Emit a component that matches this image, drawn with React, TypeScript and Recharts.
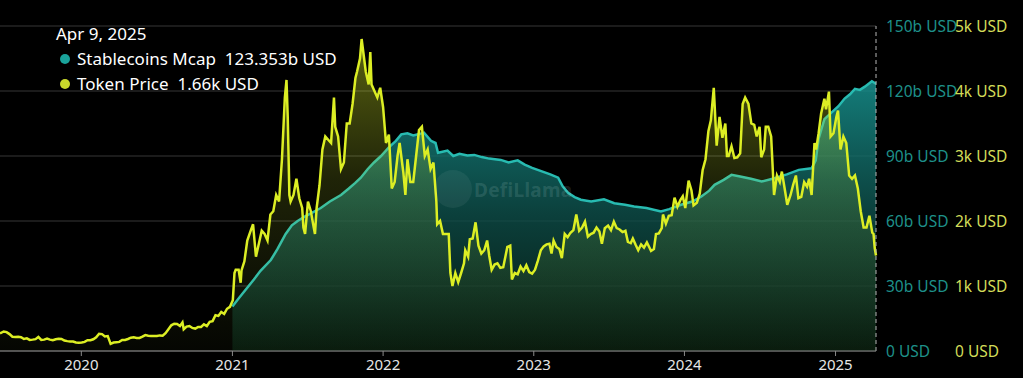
import React from 'react';
import { ComposedChart, Area, XAxis, YAxis, CartesianGrid, ReferenceLine } from 'recharts';

// Token price (USD)
const tokenPrice: [string, number][] = [
  ['2019-06-18', 270], ['2019-06-27', 300], ['2019-07-04', 290], ['2019-07-11', 260], ['2019-07-18', 220],
  ['2019-07-25', 215], ['2019-08-01', 220], ['2019-08-08', 212], ['2019-08-15', 185], ['2019-08-22', 195],
  ['2019-08-29', 170], ['2019-09-05', 175], ['2019-09-12', 182], ['2019-09-19', 215], ['2019-09-26', 170],
  ['2019-10-03', 175], ['2019-10-10', 190], ['2019-10-17', 175], ['2019-10-24', 165], ['2019-10-31', 180],
  ['2019-11-07', 188], ['2019-11-14', 185], ['2019-11-21', 160], ['2019-11-28', 152], ['2019-12-05', 148],
  ['2019-12-12', 145], ['2019-12-19', 130], ['2019-12-26', 127], ['2020-01-02', 130], ['2020-01-09', 140],
  ['2020-01-16', 165], ['2020-01-23', 165], ['2020-01-30', 180], ['2020-02-06', 210], ['2020-02-13', 265],
  ['2020-02-20', 260], ['2020-02-27', 225], ['2020-03-05', 230], ['2020-03-12', 110], ['2020-03-19', 130],
  ['2020-03-26', 135], ['2020-04-02', 140], ['2020-04-09', 170], ['2020-04-16', 170], ['2020-04-23', 185],
  ['2020-04-30', 205], ['2020-05-07', 210], ['2020-05-14', 200], ['2020-05-21', 200], ['2020-05-28', 220],
  ['2020-06-04', 245], ['2020-06-11', 235], ['2020-06-18', 230], ['2020-06-25', 230], ['2020-07-02', 230],
  ['2020-07-09', 240], ['2020-07-16', 235], ['2020-07-23', 275], ['2020-07-30', 335], ['2020-08-06', 395],
  ['2020-08-13', 420], ['2020-08-20', 415], ['2020-08-27', 385], ['2020-09-02', 440], ['2020-09-05', 335],
  ['2020-09-12', 375], ['2020-09-19', 385], ['2020-09-26', 355], ['2020-10-03', 345], ['2020-10-10', 370],
  ['2020-10-17', 370], ['2020-10-24', 410], ['2020-10-31', 385], ['2020-11-07', 450], ['2020-11-14', 460],
  ['2020-11-21', 550], ['2020-11-28', 540], ['2020-12-05', 600], ['2020-12-12', 570], ['2020-12-19', 650],
  ['2020-12-26', 680], ['2021-01-02', 780], ['2021-01-06', 1200], ['2021-01-09', 1250], ['2021-01-16', 1250],
  ['2021-01-21', 1050], ['2021-01-23', 1240], ['2021-01-30', 1380], ['2021-02-06', 1700], ['2021-02-13', 1830],
  ['2021-02-20', 1950], ['2021-02-27', 1450], ['2021-03-06', 1650], ['2021-03-13', 1850], ['2021-03-20', 1800],
  ['2021-03-27', 1700], ['2021-04-03', 2100], ['2021-04-10', 2150], ['2021-04-17', 2400], ['2021-04-24', 2300],
  ['2021-05-01', 2950], ['2021-05-08', 3900], ['2021-05-12', 4170], ['2021-05-15', 3600], ['2021-05-19', 2400],
  ['2021-05-22', 2300], ['2021-05-29', 2400], ['2021-06-05', 2650], ['2021-06-12', 2350], ['2021-06-19', 2200],
  ['2021-06-22', 1900], ['2021-06-26', 1800], ['2021-07-03', 2300], ['2021-07-10', 2150], ['2021-07-17', 1900],
  ['2021-07-20', 1800], ['2021-07-24', 2200], ['2021-07-31', 2550], ['2021-08-07', 3100], ['2021-08-14', 3300],
  ['2021-08-21', 3250], ['2021-08-28', 3200], ['2021-09-04', 3900], ['2021-09-07', 3450], ['2021-09-14', 3300],
  ['2021-09-21', 2800], ['2021-09-28', 2900], ['2021-10-05', 3500], ['2021-10-12', 3500], ['2021-10-19', 3800],
  ['2021-10-26', 4200], ['2021-10-30', 4300], ['2021-11-06', 4500], ['2021-11-10', 4800], ['2021-11-13', 4650],
  ['2021-11-20', 4300], ['2021-11-27', 4100], ['2021-12-01', 4600], ['2021-12-04', 4100], ['2021-12-11', 4000],
  ['2021-12-18', 3900], ['2021-12-25', 4050], ['2022-01-01', 3750], ['2022-01-08', 3200], ['2022-01-15', 3330],
  ['2022-01-22', 2500], ['2022-01-29', 2600], ['2022-02-05', 3000], ['2022-02-10', 3200], ['2022-02-19', 2750],
  ['2022-02-24', 2400], ['2022-03-01', 2950], ['2022-03-08', 2600], ['2022-03-15', 2600], ['2022-03-22', 3000],
  ['2022-03-29', 3400], ['2022-04-05', 3450], ['2022-04-12', 3000], ['2022-04-19', 3100], ['2022-04-26', 2800],
  ['2022-05-03', 2900], ['2022-05-10', 2300], ['2022-05-12', 1950], ['2022-05-19', 2000], ['2022-05-26', 1800],
  ['2022-06-02', 1800], ['2022-06-09', 1800], ['2022-06-13', 1200], ['2022-06-18', 1000], ['2022-06-25', 1200],
  ['2022-07-02', 1060], ['2022-07-09', 1200], ['2022-07-16', 1350], ['2022-07-19', 1550], ['2022-07-26', 1450],
  ['2022-07-30', 1720], ['2022-08-06', 1730], ['2022-08-13', 1980], ['2022-08-20', 1620], ['2022-08-27', 1500],
  ['2022-09-03', 1550], ['2022-09-10', 1700], ['2022-09-15', 1470], ['2022-09-21', 1250], ['2022-09-28', 1330],
  ['2022-10-05', 1350], ['2022-10-12', 1280], ['2022-10-19', 1290], ['2022-10-29', 1600], ['2022-11-05', 1620],
  ['2022-11-09', 1100], ['2022-11-16', 1200], ['2022-11-23', 1180], ['2022-11-30', 1300], ['2022-12-07', 1230],
  ['2022-12-14', 1320], ['2022-12-21', 1215], ['2022-12-28', 1190], ['2023-01-04', 1250], ['2023-01-11', 1390],
  ['2023-01-18', 1550], ['2023-01-25', 1610], ['2023-02-01', 1640], ['2023-02-08', 1650], ['2023-02-13', 1500],
  ['2023-02-18', 1700], ['2023-02-25', 1600], ['2023-03-04', 1570], ['2023-03-10', 1430], ['2023-03-17', 1800],
  ['2023-03-24', 1750], ['2023-03-31', 1820], ['2023-04-07', 1860], ['2023-04-14', 2100], ['2023-04-21', 1850],
  ['2023-04-28', 1900], ['2023-05-05', 1990], ['2023-05-12', 1760], ['2023-05-19', 1800], ['2023-05-26', 1820],
  ['2023-06-02', 1900], ['2023-06-09', 1840], ['2023-06-15', 1650], ['2023-06-22', 1890], ['2023-06-30', 1930],
  ['2023-07-07', 1860], ['2023-07-14', 1990], ['2023-07-21', 1890], ['2023-07-28', 1870], ['2023-08-04', 1830],
  ['2023-08-11', 1850], ['2023-08-17', 1680], ['2023-08-24', 1660], ['2023-08-29', 1730], ['2023-09-05', 1630],
  ['2023-09-11', 1550], ['2023-09-18', 1640], ['2023-09-25', 1590], ['2023-10-02', 1670], ['2023-10-09', 1580],
  ['2023-10-12', 1540], ['2023-10-19', 1570], ['2023-10-24', 1800], ['2023-10-31', 1810], ['2023-11-07', 1890],
  ['2023-11-10', 2100], ['2023-11-17', 1960], ['2023-11-24', 2080], ['2023-12-01', 2090], ['2023-12-08', 2360],
  ['2023-12-15', 2220], ['2023-12-22', 2320], ['2023-12-28', 2380], ['2024-01-03', 2200], ['2024-01-11', 2620],
  ['2024-01-18', 2470], ['2024-01-23', 2240], ['2024-01-31', 2280], ['2024-02-07', 2420], ['2024-02-14', 2780],
  ['2024-02-21', 2950], ['2024-02-28', 3380], ['2024-03-05', 3550], ['2024-03-12', 4050], ['2024-03-19', 3160],
  ['2024-03-26', 3600], ['2024-04-02', 3280], ['2024-04-09', 3500], ['2024-04-13', 3000], ['2024-04-17', 3000],
  ['2024-04-24', 3150], ['2024-05-01', 2970], ['2024-05-08', 2980], ['2024-05-15', 3040], ['2024-05-21', 3800],
  ['2024-05-27', 3900], ['2024-06-04', 3800], ['2024-06-11', 3500], ['2024-06-18', 3480], ['2024-06-24', 3300],
  ['2024-07-01', 3450], ['2024-07-05', 2980], ['2024-07-12', 3100], ['2024-07-16', 3450], ['2024-07-22', 3450],
  ['2024-07-29', 3300], ['2024-08-05', 2400], ['2024-08-12', 2700], ['2024-08-19', 2600], ['2024-08-24', 2760],
  ['2024-09-01', 2450], ['2024-09-06', 2250], ['2024-09-14', 2400], ['2024-09-20', 2550], ['2024-09-27', 2700],
  ['2024-10-03', 2350], ['2024-10-10', 2370], ['2024-10-17', 2600], ['2024-10-24', 2530], ['2024-10-29', 2650],
  ['2024-11-04', 2400], ['2024-11-11', 3200], ['2024-11-15', 3100], ['2024-11-21', 3350], ['2024-11-27', 3650],
  ['2024-12-05', 3880], ['2024-12-09', 3720], ['2024-12-16', 3990], ['2024-12-20', 3300], ['2024-12-27', 3350],
  ['2025-01-03', 3600], ['2025-01-07', 3700], ['2025-01-13', 3100], ['2025-01-20', 3300], ['2025-01-27', 3200],
  ['2025-02-03', 2700], ['2025-02-10', 2650], ['2025-02-17', 2700], ['2025-02-24', 2500], ['2025-03-03', 2150],
  ['2025-03-10', 1900], ['2025-03-17', 1900], ['2025-03-24', 2080], ['2025-03-31', 1820], ['2025-04-03', 1800],
  ['2025-04-06', 1580], ['2025-04-09', 1470],
];

// Stablecoins market cap (billions USD)
const stablecoinsMcap: [string, number][] = [
  ['2021-01-01', 20.5], ['2021-01-15', 24], ['2021-02-01', 28], ['2021-02-22', 33], ['2021-03-10', 37],
  ['2021-04-04', 42], ['2021-04-20', 47], ['2021-05-10', 54], ['2021-05-25', 58], ['2021-06-08', 60],
  ['2021-06-25', 62], ['2021-07-10', 63.5], ['2021-08-03', 66], ['2021-08-25', 69], ['2021-09-21', 72],
  ['2021-10-10', 75], ['2021-10-25', 77.5], ['2021-11-08', 80], ['2021-11-25', 84], ['2021-12-10', 87],
  ['2021-12-27', 90], ['2022-01-15', 94], ['2022-02-01', 97], ['2022-02-14', 100], ['2022-03-01', 100.5],
  ['2022-03-15', 99.5], ['2022-03-27', 100], ['2022-04-10', 100.8], ['2022-04-27', 97], ['2022-05-08', 96],
  ['2022-05-14', 91.5], ['2022-05-25', 92], ['2022-06-06', 92.5], ['2022-06-20', 90], ['2022-07-05', 91],
  ['2022-07-24', 90.2], ['2022-08-10', 90.5], ['2022-08-28', 89.5], ['2022-09-15', 88.8], ['2022-10-13', 88.2],
  ['2022-11-01', 87], ['2022-11-23', 88], ['2022-12-10', 86], ['2022-12-28', 84.5], ['2023-01-19', 83],
  ['2023-02-10', 81.5], ['2023-03-01', 80], ['2023-03-12', 76], ['2023-03-25', 73], ['2023-04-10', 71],
  ['2023-04-25', 69.8], ['2023-05-20', 69], ['2023-06-20', 70], ['2023-07-15', 68.2], ['2023-08-10', 67.5],
  ['2023-09-01', 66.7], ['2023-10-01', 66], ['2023-11-05', 64.4], ['2023-11-25', 65.5], ['2023-12-24', 67.5],
  ['2024-01-20', 69], ['2024-02-11', 71.3], ['2024-03-01', 74], ['2024-03-14', 76.7], ['2024-04-05', 79],
  ['2024-04-24', 81.3], ['2024-05-15', 80.5], ['2024-06-10', 79.5], ['2024-07-06', 78.2], ['2024-08-06', 79.7],
  ['2024-09-05', 81.5], ['2024-10-04', 83.6], ['2024-11-04', 84.3], ['2024-11-14', 88], ['2024-11-21', 98],
  ['2024-12-05', 107], ['2024-12-22', 110], ['2025-01-08', 113], ['2025-01-23', 116.5], ['2025-02-05', 118.5],
  ['2025-02-17', 121], ['2025-03-01', 120.5], ['2025-03-13', 122], ['2025-03-30', 124.5], ['2025-04-09', 123.35],
];

const yearTicks = ['2020-01-01', '2021-01-01', '2022-01-01', '2023-01-01', '2024-01-01', '2025-01-01'];
const mcapTicks = [0, 30, 60, 90, 120, 150];
const priceTicks = [0, 1000, 2000, 3000, 4000, 5000];

// tooltip shown at the hovered (last) day
const hoverDate = 'Apr 9, 2025';
const hoverMcap = '123.353b USD';
const hoverPrice = '1.66k USD';

const TEAL = '#28bbb1';
const YELLOW = '#dcee24';
const FONT = '"Noto Sans", "Open Sans", sans-serif';

// merge both series on one time axis
const rowMap = new Map<number, any>();
tokenPrice.forEach(([d, v]) => {
  const t = Date.parse(d);
  rowMap.set(t, { ...(rowMap.get(t) || { t }), price: v });
});
stablecoinsMcap.forEach(([d, v]) => {
  const t = Date.parse(d);
  rowMap.set(t, { ...(rowMap.get(t) || { t }), mcap: v });
});
const rows = Array.from(rowMap.values()).sort((a, b) => a.t - b.t);
const firstT = rows[0].t;
const lastT = rows[rows.length - 1].t;

const fmtMcap = (v: number) => (v === 0 ? '0 USD' : `${v}b USD`);
const fmtPrice = (v: number) => (v === 0 ? '0 USD' : `${v / 1000}k USD`);

export default function App() {
  return (
    <div
      style={{
        position: 'fixed',
        left: 0,
        top: 0,
        width: 1023,
        height: 378,
        background: '#000',
        fontFamily: FONT,
        overflow: 'hidden',
      }}
    >
      <ComposedChart
        width={1023}
        height={378}
        data={rows}
        margin={{ top: 26, right: 0, bottom: 0, left: 0 }}
      >
        <defs>
          <linearGradient id="mcapFill" x1="0" y1="0" x2="0" y2="1">
            <stop offset="0%" stopColor="#17928f" stopOpacity={0.85} />
            <stop offset="50%" stopColor="#0e4f4a" stopOpacity={0.8} />
            <stop offset="100%" stopColor="#061a0e" stopOpacity={0.85} />
          </linearGradient>
          <linearGradient id="priceFill" x1="0" y1="0" x2="0" y2="1">
            <stop offset="0%" stopColor="#d8ea25" stopOpacity={0.42} />
            <stop offset="45%" stopColor="#c4e030" stopOpacity={0.16} />
            <stop offset="100%" stopColor="#a8d040" stopOpacity={0.03} />
          </linearGradient>
        </defs>
        <CartesianGrid
          yAxisId="mcap"
          vertical={false}
          stroke="#363636"
          strokeWidth={1}
        />
        <XAxis
          dataKey="t"
          type="number"
          scale="time"
          domain={[firstT, lastT]}
          ticks={yearTicks.map((d) => Date.parse(d))}
          tickFormatter={(t) => String(new Date(t).getUTCFullYear())}
          height={27}
          stroke="#8a8a8a"
          tickSize={5}
          tickMargin={3}
          tick={{ fill: '#e6e6e6', fontSize: 15, fontFamily: FONT }}
        />
        <YAxis
          yAxisId="mcap"
          orientation="right"
          domain={[0, 150]}
          ticks={mcapTicks}
          tickFormatter={fmtMcap}
          width={69}
          axisLine={false}
          tickLine={false}
          tickSize={6}
          tickMargin={4}
          tick={{ fill: '#1e9089', fontSize: 15.5, fontFamily: FONT, textAnchor: 'start' }}
        />
        <YAxis
          yAxisId="price"
          orientation="right"
          domain={[0, 5000]}
          ticks={priceTicks}
          tickFormatter={fmtPrice}
          width={78}
          axisLine={false}
          tickLine={false}
          tickSize={6}
          tickMargin={4}
          tick={{ fill: '#d2dc58', fontSize: 15.5, fontFamily: FONT, textAnchor: 'start' }}
        />
        <Area
          yAxisId="mcap"
          dataKey="mcap"
          type="linear"
          stroke={TEAL}
          strokeWidth={2.5}
          fill="url(#mcapFill)"
          fillOpacity={1}
          connectNulls
          dot={false}
          activeDot={false}
          isAnimationActive={false}
        />
        <Area
          yAxisId="price"
          dataKey="price"
          type="linear"
          stroke={YELLOW}
          strokeWidth={2.5}
          fill="url(#priceFill)"
          fillOpacity={1}
          connectNulls
          dot={false}
          activeDot={false}
          isAnimationActive={false}
        />
        <ReferenceLine
          yAxisId="mcap"
          x={lastT}
          stroke="#b5b5b5"
          strokeDasharray="4 3"
          strokeWidth={1}
        />
      </ComposedChart>

      {/* watermark */}
      <div
        style={{
          position: 'absolute',
          left: 434,
          top: 170,
          width: 38,
          height: 38,
          borderRadius: '50%',
          background: 'rgba(255,255,255,0.06)',
        }}
      />
      <div
        style={{
          position: 'absolute',
          left: 474,
          top: 177,
          fontSize: 19,
          fontWeight: 700,
          color: 'rgba(200,230,230,0.14)',
          letterSpacing: 0.3,
        }}
      >
        DefiLlama
      </div>

      {/* hover tooltip */}
      <div style={{ position: 'absolute', left: 56, top: 21, color: '#fff', fontSize: 17, lineHeight: '25px' }}>
        <div>{hoverDate}</div>
        <div style={{ display: 'flex', alignItems: 'center' }}>
          <span style={{ width: 10, height: 10, borderRadius: '50%', background: '#1aa39b', marginRight: 7, marginLeft: 4 }} />
          <span>Stablecoins Mcap&nbsp;&nbsp;{hoverMcap}</span>
        </div>
        <div style={{ display: 'flex', alignItems: 'center' }}>
          <span style={{ width: 10, height: 10, borderRadius: '50%', background: '#c9d92b', marginRight: 7, marginLeft: 4 }} />
          <span>Token Price&nbsp;&nbsp;{hoverPrice}</span>
        </div>
      </div>
    </div>
  );
}
